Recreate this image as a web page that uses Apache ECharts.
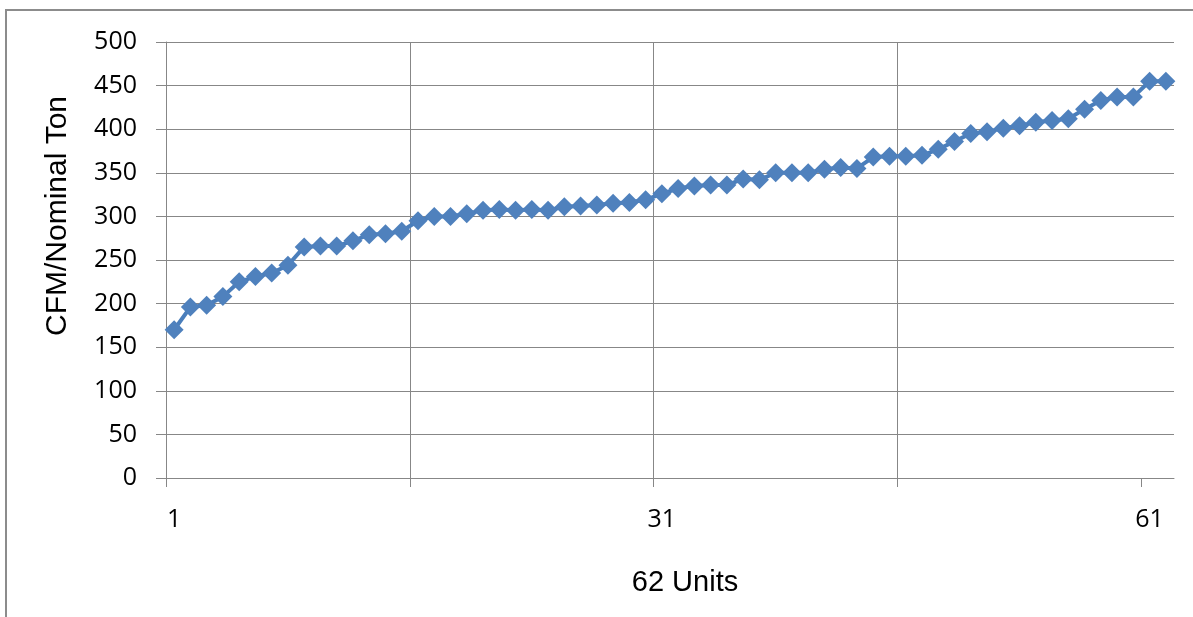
<!DOCTYPE html>
<html>
<head>
<meta charset="utf-8">
<script src="https://cdn.jsdelivr.net/npm/echarts@6/dist/echarts.min.js"></script>
<style>
html,body{margin:0;padding:0;background:#fff;}
#chart{width:1193px;height:617px;}
</style>
</head>
<body>
<div id="chart"></div>
<script>
// Unit index (1..62) and measured CFM per nominal ton
const units = [1,2,3,4,5,6,7,8,9,10,11,12,13,14,15,16,17,18,19,20,21,22,23,24,25,26,27,28,29,30,31,32,33,34,35,36,37,38,39,40,41,42,43,44,45,46,47,48,49,50,51,52,53,54,55,56,57,58,59,60,61,62];
const cfmPerTon = [170,196,198,208,225,231,235,244,265,266,266,272,279,280,283,295,300,300,303,307,308,307,308,307,311,312,313,315,316,319,326,332,335,336,336,343,342,350,350,350,354,356,355,368,369,369,370,377,386,395,397,401,404,408,410,412,423,433,437,437,455,455];
const xLabelValues = [1,31,61];
const xTickValues = [0.5,15.5,30.5,45.5,60.5];
const yTicks = [0,50,100,150,200,250,300,350,400,450,500];

const gray = '#878787';
const chart = echarts.init(document.getElementById('chart'), null, {renderer:'canvas'});
const data = units.map((u,i)=>[u, cfmPerTon[i]]);

chart.setOption({
  animation:false,
  backgroundColor:'#ffffff',
  graphic:[{
    type:'polyline',
    shape:{points:[[6,700],[6,10],[1300,10]]},
    style:{stroke:'#8c8c8c', lineWidth:2, fill:null},
    silent:true
  }],
  grid:{left:166, right:19, top:42, bottom:139, containLabel:false},
  xAxis:{
    type:'value',
    min:0.5, max:62.5, interval:15,
    name:'62 Units',
    nameLocation:'middle',
    nameGap:90,
    nameTextStyle:{fontFamily:'Liberation Sans', fontSize:29, color:'#000', padding:[0,0,0,30]},
    axisLine:{show:true, onZero:false, lineStyle:{color:gray, width:1}},
    axisTick:{show:true, length:9, customValues:xTickValues, lineStyle:{color:gray}},
    axisLabel:{customValues:xLabelValues, fontFamily:'Open Sans', fontSize:25, color:'#000', margin:29},
    splitLine:{show:true, showMinLine:false, showMaxLine:false, lineStyle:{color:gray, width:1}}
  },
  yAxis:{
    type:'value',
    min:yTicks[0], max:yTicks[yTicks.length-1], interval:50,
    name:'CFM/Nominal Ton',
    nameLocation:'middle',
    nameGap:93,
    nameRotate:90,
    nameTextStyle:{fontFamily:'Liberation Sans', fontSize:30, color:'#000', padding:[0,0,0,88]},
    axisLine:{show:true, lineStyle:{color:gray, width:1}},
    axisTick:{show:true, length:10, lineStyle:{color:gray}},
    axisLabel:{fontFamily:'Open Sans', fontSize:25, color:'#000', margin:29},
    splitLine:{show:true, lineStyle:{color:gray, width:1}}
  },
  series:[{
    type:'line',
    data:data,
    symbol:'diamond',
    symbolSize:19,
    lineStyle:{color:'#4a7ebb', width:4},
    itemStyle:{color:'#4f81bd', borderWidth:0},
    z:3
  }]
});
</script>
</body>
</html>
